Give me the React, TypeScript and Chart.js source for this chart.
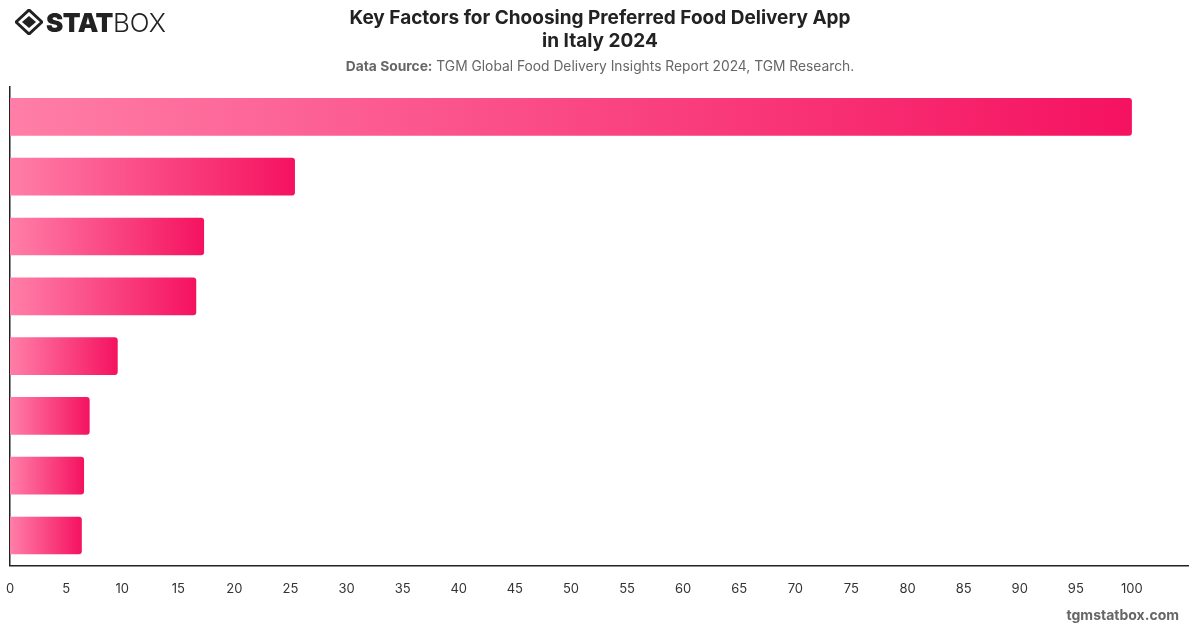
import React, { useEffect, useRef } from "react";
import { Chart, registerables } from "chart.js";

Chart.register(...registerables);

const categories = [
  "Factor 1",
  "Factor 2",
  "Factor 3",
  "Factor 4",
  "Factor 5",
  "Factor 6",
  "Factor 7",
  "Factor 8",
];
const values = [100, 25.4, 17.3, 16.6, 9.6, 7.1, 6.6, 6.4];
const xTicks = [0, 5, 10, 15, 20, 25, 30, 35, 40, 45, 50, 55, 60, 65, 70, 75, 80, 85, 90, 95, 100];

const FONT = "Inter, 'Noto Sans', sans-serif";

export default function App() {
  const ref = useRef<HTMLCanvasElement | null>(null);

  useEffect(() => {
    if (!ref.current) return;
    const chart = new Chart(ref.current, {
      type: "bar",
      data: {
        labels: categories,
        datasets: [
          {
            data: values,
            backgroundColor: (ctx: any) => {
              const c = ctx.chart;
              const area = c.chartArea;
              if (!area || ctx.raw == null) return "#ff4a88";
              const x0 = c.scales.x.getPixelForValue(0);
              const x1 = c.scales.x.getPixelForValue(ctx.raw);
              const g = c.ctx.createLinearGradient(x0, 0, Math.max(x1, x0 + 1), 0);
              g.addColorStop(0, "rgb(255,126,168)");
              g.addColorStop(1, "rgb(245,18,96)");
              return g;
            },
            borderRadius: { topRight: 3, bottomRight: 3, topLeft: 0, bottomLeft: 0 },
            borderSkipped: "start",
            barPercentage: 0.9,
            categoryPercentage: 0.7,
          },
        ],
      },
      options: {
        indexAxis: "y",
        responsive: false,
        animation: false,
        maintainAspectRatio: false,
        layout: { padding: { top: 87, left: 10, right: 12, bottom: 15 } },
        plugins: { legend: { display: false }, tooltip: { enabled: false }, title: { display: false } },
        scales: {
          x: {
            min: 0,
            max: 105,
            afterBuildTicks: (axis: any) => {
              axis.ticks = xTicks.map((v) => ({ value: v }));
            },
            afterFit: (axis: any) => {
              axis.paddingLeft = 0;
              axis.paddingRight = 0;
            },
            grid: { display: false, drawTicks: false },
            border: { display: true, color: "#222", width: 1.5 },
            ticks: {
              color: "#333",
              font: { family: FONT, size: 13 },
              padding: 16,
              maxRotation: 0,
              autoSkip: false,
            },
          },
          y: {
            afterFit: (axis: any) => {
              axis.width = 0;
            },
            grid: { display: false, drawTicks: false },
            border: { display: true, color: "#222", width: 1.5 },
            ticks: { display: false },
          },
        },
      },
    });
    return () => chart.destroy();
  }, []);

  return (
    <div
      style={{
        position: "absolute",
        left: 0,
        top: 0,
        width: 1200,
        height: 628,
        background: "#fff",
        fontFamily: FONT,
        overflow: "hidden",
      }}
    >
      <canvas ref={ref} width={1200} height={628} style={{ position: "absolute", left: 0, top: 0 }} />
      <div style={{ position: "absolute", left: 15, top: 8, display: "flex", alignItems: "center", height: 28 }}>
        <svg width="28" height="26" viewBox="0 0 28 26">
          <polygon points="14,1 27,13 14,25 1,13" fill="none" stroke="#222" strokeWidth="3" />
          <polygon points="14,7 21,13 14,19 7,13" fill="#222" />
        </svg>
        <span style={{ fontWeight: 900, fontSize: 26, color: "#222", marginLeft: 3, letterSpacing: -0.5 }}>STAT</span>
        <span style={{ fontWeight: 300, fontSize: 26, color: "#222" }}>BOX</span>
      </div>
      <div
        style={{
          position: "absolute",
          left: 0,
          top: 6,
          width: 1200,
          textAlign: "center",
          fontWeight: 700,
          fontSize: 19,
          lineHeight: "23px",
          color: "#222",
        }}
      >
        Key Factors for Choosing Preferred Food Delivery App
        <br />
        in Italy 2024
      </div>
      <div
        style={{
          position: "absolute",
          left: 0,
          top: 58,
          width: 1200,
          textAlign: "center",
          fontSize: 13.8,
          color: "#666",
        }}
      >
        <b>Data Source:</b> TGM Global Food Delivery Insights Report 2024, TGM Research.
      </div>
      <div
        style={{
          position: "absolute",
          right: 21,
          top: 606,
          fontSize: 14,
          fontWeight: 700,
          color: "#666",
        }}
      >
        tgmstatbox.com
      </div>
    </div>
  );
}
